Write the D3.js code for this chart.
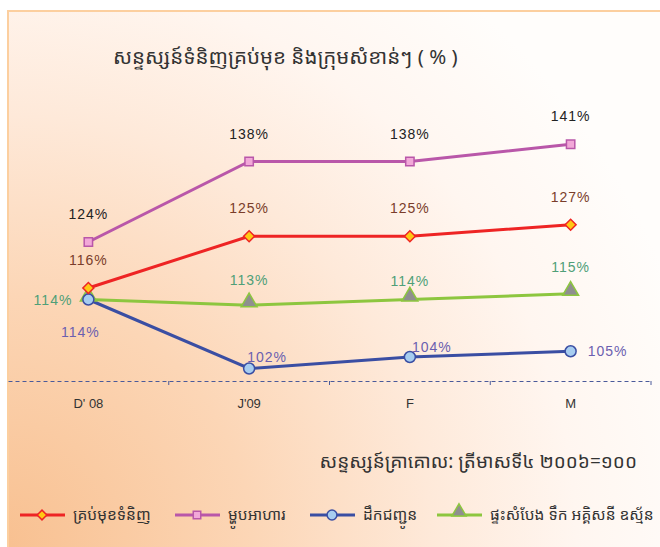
<!DOCTYPE html>
<html>
<head>
<meta charset="utf-8">
<script src="https://cdn.jsdelivr.net/npm/d3@7"></script>
<style>
  body { margin: 0; background: #fff; }
  svg { display: block; }
</style>
</head>
<body>
<div id="chart"></div>
<script>
// Chart data
const months = ["D' 08", "J'09", "F", "M"];
const seriesNames = ["គ្រប់មុខទំនិញ", "ម្ហូបអាហារ", "ដឹកជញ្ជូន", "ផ្ទះសំបែង ទឹក អគ្គិសនី ឧស្ម័ន"];
const allItems = [116, 125, 125, 127];
const food = [124, 138, 138, 141];
const transport = [114, 102, 104, 105];
const housing = [114, 113, 114, 115];
const titleText = "សន្ទស្សន៍ទំនិញគ្រប់មុខ និងក្រុមសំខាន់ៗ ( % )";
const baseText = "សន្ទស្សន៍គ្រាគោល: ត្រីមាសទី៤ ២០០៦=១០០";

const W = 660, H = 547;
const khmer = "'Noto Sans Khmer', 'Khmer OS', 'DejaVu Sans', sans-serif";
const latin = "'Liberation Sans', Arial, sans-serif";

const svg = d3.select("#chart").append("svg")
    .attr("width", W)
    .attr("height", H);

// background gradient
const defs = svg.append("defs");
const grad = defs.append("radialGradient")
    .attr("id", "bg")
    .attr("gradientUnits", "userSpaceOnUse")
    .attr("cx", 0).attr("cy", H).attr("r", 720);
grad.append("stop").attr("offset", 0).attr("stop-color", "#f8c090");
grad.append("stop").attr("offset", 0.35).attr("stop-color", "#fcd6b6");
grad.append("stop").attr("offset", 0.6).attr("stop-color", "#fee9d9");
grad.append("stop").attr("offset", 0.8).attr("stop-color", "#fff6f0");
grad.append("stop").attr("offset", 1).attr("stop-color", "#fffdfb");

svg.append("rect")
    .attr("x", 8).attr("y", 11)
    .attr("width", W).attr("height", H)
    .attr("fill", "url(#bg)")
    .attr("stroke", "#fccf9f")
    .attr("stroke-width", 2);

// scales
const x = d3.scaleBand()
    .domain(months)
    .range([8, 651]);
const y = d3.scaleLinear()
    .domain([100, 150])
    .range([380, 92.5]);

// x axis (dashed baseline)
const xAxis = svg.append("g")
    .attr("transform", "translate(0,381)")
    .call(d3.axisBottom(x).tickSize(0).tickPadding(18));
xAxis.select(".domain")
    .attr("stroke", "#4a5a9a")
    .attr("stroke-width", 1)
    .attr("stroke-dasharray", "4,3");
xAxis.selectAll("text")
    .attr("font-family", latin)
    .attr("font-size", 13)
    .attr("fill", "#333");

// small ticks at band boundaries
svg.append("g")
    .selectAll("line")
    .data(months)
    .enter()
    .append("line")
        .attr("x1", d => x(d) + x.bandwidth())
        .attr("x2", d => x(d) + x.bandwidth())
        .attr("y1", 381)
        .attr("y2", 385)
        .attr("stroke", "#4a5a9a");

const cx = d => x(d) + x.bandwidth() / 2;

const series = [
  {name: seriesNames[3], values: housing, line: "#8dc63f", fill: "#8f8f8f", stroke: "#8dc63f",
   symbol: d3.symbolTriangle, size: 110, rot: 0, dy: -3, label: "#4f9f78"},
  {name: seriesNames[2], values: transport, line: "#3a4ea3", fill: "#a7cdf0", stroke: "#3a4ea3",
   symbol: d3.symbolCircle, size: 95, rot: 0, dy: 0, label: "#6b5fb0"},
  {name: seriesNames[0], values: allItems, line: "#ee2424", fill: "#ffc814", stroke: "#ee2424",
   symbol: d3.symbolSquare, size: 60, rot: 45, dy: 0, label: "#7a3d2a"},
  {name: seriesNames[1], values: food, line: "#b957a9", fill: "#f2a8d8", stroke: "#b957a9",
   symbol: d3.symbolSquare, size: 70, rot: 0, dy: 0, label: "#222"}
];

const line = d3.line()
    .x((d, i) => cx(months[i]))
    .y(d => y(d));

series.forEach(s => {
  svg.append("path")
      .datum(s.values)
      .attr("fill", "none")
      .attr("stroke", s.line)
      .attr("stroke-width", 3)
      .attr("d", line);
});

series.forEach(s => {
  svg.append("g")
    .selectAll("path")
    .data(s.values)
    .enter()
    .append("path")
      .attr("transform", (d, i) => `translate(${cx(months[i])},${y(d) + s.dy}) rotate(${s.rot})`)
      .attr("d", d3.symbol().type(s.symbol).size(s.size))
      .attr("fill", s.fill)
      .attr("stroke", s.stroke)
      .attr("stroke-width", 1.5);
});

// data labels
function label(s, i, dx, dy, anchor) {
  svg.append("text")
      .attr("x", cx(months[i]) + dx)
      .attr("y", y(s.values[i]) + dy)
      .attr("text-anchor", anchor)
      .attr("font-family", latin)
      .attr("font-size", 14)
      .attr("letter-spacing", 1)
      .attr("fill", s.label)
      .text(s.values[i] + "%");
}
const [sHousing, sTransport, sAll, sFood] = series;
sFood.values.forEach((v, i) => label(sFood, i, 0, -23, "middle"));
sAll.values.forEach((v, i) => label(sAll, i, 0, -23, "middle"));
label(sHousing, 0, -16, 5, "end");
label(sHousing, 1, 0, -20, "middle");
label(sHousing, 2, 0, -14, "middle");
label(sHousing, 3, 0, -22, "middle");
label(sTransport, 0, -8, 37, "middle");
label(sTransport, 1, -2, -7, "start");
label(sTransport, 2, 2, -5, "start");
label(sTransport, 3, 17, 5, "start");

// title
svg.append("text")
    .attr("x", 113)
    .attr("y", 64)
    .attr("font-family", khmer)
    .attr("font-size", 20.5)
    .attr("fill", "#333")
    .text(titleText);

svg.append("text")
    .attr("x", 637)
    .attr("y", 468)
    .attr("text-anchor", "end")
    .attr("font-family", khmer)
    .attr("font-size", 19)
    .attr("fill", "#333")
    .text(baseText);

// legend
const legendItems = [
  {s: sAll, x: 20},
  {s: sFood, x: 175},
  {s: sTransport, x: 310},
  {s: sHousing, x: 437}
];
const legend = svg.append("g").attr("transform", "translate(0,515)");
legendItems.forEach(li => {
  const g = legend.append("g").attr("transform", `translate(${li.x},0)`);
  g.append("line")
      .attr("x1", 0).attr("x2", 45)
      .attr("stroke", li.s.line)
      .attr("stroke-width", 3);
  g.append("path")
      .attr("transform", `translate(22,${li.s.dy}) rotate(${li.s.rot})`)
      .attr("d", d3.symbol().type(li.s.symbol).size(li.s.size * 0.8))
      .attr("fill", li.s.fill)
      .attr("stroke", li.s.stroke)
      .attr("stroke-width", 1.5);
  g.append("text")
      .attr("x", 53)
      .attr("y", 5)
      .attr("font-family", khmer)
      .attr("font-size", 15.5)
      .attr("fill", "#333")
      .text(li.s.name);
});
</script>
</body>
</html>
